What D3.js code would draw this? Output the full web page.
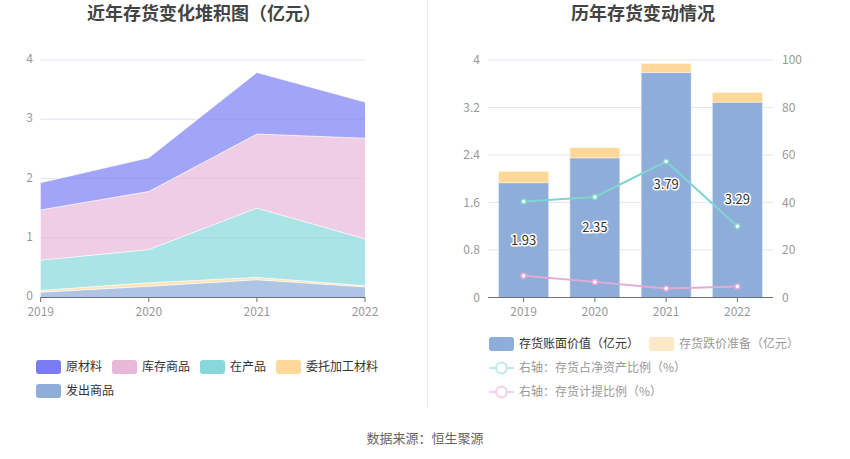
<!DOCTYPE html>
<html><head><meta charset="utf-8">
<script src="https://cdn.jsdelivr.net/npm/d3@7/dist/d3.min.js"></script>
<style>
body{margin:0;background:#fff;}
svg{display:block;font-family:"Noto Sans CJK SC","Noto Sans",sans-serif;}
</style></head>
<body>
<svg id="c" width="850" height="459"></svg>
<script>
// ---- data ----
const years = ["2019","2020","2021","2022"];
// left stacked area (亿元)
const faChuShangPin = [0.08, 0.18, 0.29, 0.17];   // 发出商品
const weiTuoJiaGong = [0.03, 0.06, 0.04, 0.02];   // 委托加工材料
const zaiChanPin    = [0.51, 0.56, 1.17, 0.79];   // 在产品
const kuCunShangPin = [0.85, 0.98, 1.25, 1.70];   // 库存商品
const yuanCaiLiao   = [0.46, 0.57, 1.04, 0.61];   // 原材料
const leftTicks = [0,1,2,3,4];
// right chart
const bookValue = [1.93, 2.35, 3.79, 3.29];       // 存货账面价值（亿元）
const provision = [0.19, 0.17, 0.15, 0.16];       // 存货跌价准备（亿元）
const netAssetRatio = [40.4, 42.3, 57.2, 29.9];   // 存货占净资产比例（%）
const provisionRatio = [9.1, 6.5, 3.7, 4.5];      // 存货计提比例（%）
const rightLeftTicks = [0,0.8,1.6,2.4,3.2,4];
const rightRightTicks = [0,20,40,60,80,100];

const svg = d3.select("#c");
const FONT_AX = "12px";
const gridCol = "#e0e6f1";
const axisTxt = "#999";

// titles
svg.append("text").attr("x",204).attr("y",20).attr("text-anchor","middle")
  .attr("font-size","18px").attr("font-weight","bold").attr("fill","#444").text("近年存货变化堆积图（亿元）");
svg.append("text").attr("x",643).attr("y",20).attr("text-anchor","middle")
  .attr("font-size","18px").attr("font-weight","bold").attr("fill","#444").text("历年存货变动情况");
// divider
svg.append("line").attr("x1",427.5).attr("x2",427.5).attr("y1",0).attr("y2",408).attr("stroke","#eee").attr("stroke-width",1);
// source
svg.append("text").attr("x",425).attr("y",443).attr("text-anchor","middle")
  .attr("font-size","13px").attr("fill","#666").text("数据来源：恒生聚源");

// ---------- left chart ----------
{
  const x = d3.scalePoint().domain(years).range([40.7, 365]);
  const y = d3.scaleLinear().domain([0,4]).range([297, 60]);
  const g = svg.append("g");
  leftTicks.forEach(t=>{
    if(t>0) g.append("line").attr("x1",40.7).attr("x2",365).attr("y1",y(t)).attr("y2",y(t)).attr("stroke",gridCol);
    g.append("text").attr("x",33).attr("y",y(t)-1).attr("dy","0.35em").attr("text-anchor","end")
      .attr("font-size",FONT_AX).attr("fill",axisTxt).text(t);
  });
  const series = [
    {name:"发出商品", v:faChuShangPin, c:"#8eadd8"},
    {name:"委托加工材料", v:weiTuoJiaGong, c:"#fed898"},
    {name:"在产品", v:zaiChanPin, c:"#88d8db"},
    {name:"库存商品", v:kuCunShangPin, c:"#e8b8d8"},
    {name:"原材料", v:yuanCaiLiao, c:"#7b7ef5"}
  ];
  const rows = years.map((yr,i)=>{const o={year:yr}; series.forEach(s=>o[s.name]=s.v[i]); return o;});
  const stack = d3.stack().keys(series.map(s=>s.name))(rows);
  const area = d3.area().x(d=>x(d.data.year)).y0(d=>y(d[0])).y1(d=>y(d[1]));
  const line = d3.line().x(d=>x(d.data.year)).y(d=>y(d[1]));
  stack.forEach((layer,k)=>{
    g.append("path").attr("d",area(layer)).attr("fill",series[k].c).attr("fill-opacity",0.7);
  });
  stack.forEach((layer,k)=>{
    g.append("path").attr("d",line(layer)).attr("fill","none").attr("stroke","#fff").attr("stroke-opacity",0.7).attr("stroke-width",1);
  });
  g.append("line").attr("x1",40.7).attr("x2",365).attr("y1",297.5).attr("y2",297.5).attr("stroke","#6e7079");
  years.forEach(yr=>{
    g.append("line").attr("x1",x(yr)).attr("x2",x(yr)).attr("y1",297).attr("y2",302).attr("stroke","#6e7079");
    g.append("text").attr("x",x(yr)).attr("y",316).attr("text-anchor","middle")
      .attr("font-size",FONT_AX).attr("fill",axisTxt).text(yr);
  });
  // legend
  const leg = [
    {n:"原材料",c:"#7a7cf2",x:36,y:367},
    {n:"库存商品",c:"#e8b8d8",x:112,y:367},
    {n:"在产品",c:"#88d8db",x:200,y:367},
    {n:"委托加工材料",c:"#fed898",x:276,y:367},
    {n:"发出商品",c:"#8eadd8",x:36,y:391}
  ];
  leg.forEach(l=>{
    g.append("rect").attr("x",l.x).attr("y",l.y-7).attr("width",25).attr("height",14).attr("rx",3).attr("fill",l.c);
    g.append("text").attr("x",l.x+30).attr("y",l.y).attr("dy","0.35em").attr("font-size","12px").attr("fill","#333").text(l.n);
  });
}

// ---------- right chart ----------
{
  const x = d3.scaleBand().domain(years).range([488, 773]);
  const y = d3.scaleLinear().domain([0,4]).range([297.3, 60]);
  const y2 = d3.scaleLinear().domain([0,100]).range([297.3, 60]);
  const g = svg.append("g");
  rightLeftTicks.forEach(t=>{
    if(t>0) g.append("line").attr("x1",488).attr("x2",773).attr("y1",y(t)).attr("y2",y(t)).attr("stroke",gridCol);
    g.append("text").attr("x",480).attr("y",y(t)).attr("dy","0.35em").attr("text-anchor","end")
      .attr("font-size",FONT_AX).attr("fill",axisTxt).text(t);
  });
  rightRightTicks.forEach(t=>{
    g.append("text").attr("x",782).attr("y",y2(t)).attr("dy","0.35em").attr("text-anchor","start")
      .attr("font-size",FONT_AX).attr("fill",axisTxt).text(t);
  });
  const bw = x.bandwidth()*0.7;
  years.forEach((yr,i)=>{
    const cx = x(yr)+x.bandwidth()/2;
    g.append("rect").attr("x",cx-bw/2).attr("width",bw).attr("y",y(bookValue[i])).attr("height",y(0)-y(bookValue[i]))
      .attr("fill","#8eadd9").attr("stroke","#dde6f3").attr("stroke-width",0.6);
    g.append("rect").attr("x",cx-bw/2).attr("width",bw).attr("y",y(bookValue[i]+provision[i])).attr("height",y(bookValue[i])-y(bookValue[i]+provision[i]))
      .attr("fill","#fed898").attr("stroke","#fff3df").attr("stroke-width",0.6);
  });
  g.append("line").attr("x1",488).attr("x2",773).attr("y1",297.5).attr("y2",297.5).attr("stroke","#6e7079");
  years.forEach(yr=>{
    const cx = x(yr)+x.bandwidth()/2;
    g.append("line").attr("x1",cx).attr("x2",cx).attr("y1",297).attr("y2",302).attr("stroke","#6e7079");
    g.append("text").attr("x",cx).attr("y",316).attr("text-anchor","middle")
      .attr("font-size",FONT_AX).attr("fill",axisTxt).text(yr);
  });
  const cxs = years.map(yr=>x(yr)+x.bandwidth()/2);
  const drawLine=(vals,col)=>{
    const ln = d3.line().x((d,i)=>cxs[i]).y(d=>y2(d));
    g.append("path").attr("d",ln(vals)).attr("fill","none").attr("stroke",col).attr("stroke-width",2);
    vals.forEach((v,i)=>g.append("circle").attr("cx",cxs[i]).attr("cy",y2(v)).attr("r",2.5)
      .attr("fill","#fff").attr("stroke",col).attr("stroke-width",1.5));
  };
  drawLine(netAssetRatio,"#80d4d2");
  drawLine(provisionRatio,"#e3abd6");
  // bar labels
  years.forEach((yr,i)=>{
    g.append("text").attr("x",cxs[i]).attr("y",y(bookValue[i]/2)).attr("dy","0.35em").attr("text-anchor","middle")
      .attr("font-size","13px").attr("fill","#333").attr("stroke","#fff").attr("stroke-width",3)
      .attr("paint-order","stroke").attr("stroke-linejoin","round").text(bookValue[i].toFixed(2));
  });
  // legend
  const L = [
    {t:"rect",n:"存货账面价值（亿元）",c:"#8eadd9",tc:"#333",x:489,y:344},
    {t:"rect",n:"存货跌价准备（亿元）",c:"#fde9c8",tc:"#999",x:649,y:344},
    {t:"line",n:"右轴：存货占净资产比例（%）",c:"#bde9ea",tc:"#999",x:489,y:368},
    {t:"line",n:"右轴：存货计提比例（%）",c:"#f2d2ea",tc:"#999",x:489,y:392}
  ];
  L.forEach(l=>{
    if(l.t==="rect"){
      g.append("rect").attr("x",l.x).attr("y",l.y-7).attr("width",25).attr("height",14).attr("rx",3).attr("fill",l.c);
    } else {
      g.append("line").attr("x1",l.x).attr("x2",l.x+25).attr("y1",l.y).attr("y2",l.y).attr("stroke",l.c).attr("stroke-width",2);
      g.append("circle").attr("cx",l.x+12.5).attr("cy",l.y).attr("r",5.5).attr("fill","#fff").attr("stroke",l.c).attr("stroke-width",2);
    }
    g.append("text").attr("x",l.x+30).attr("y",l.y).attr("dy","0.35em").attr("font-size","12px").attr("fill",l.tc).text(l.n);
  });
}
</script>
</body></html>
